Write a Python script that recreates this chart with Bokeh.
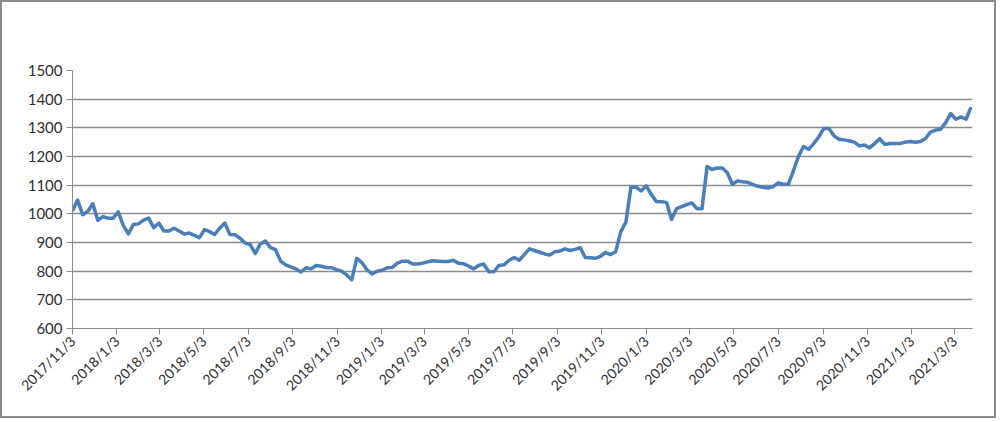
import math
import datetime as dt
from bokeh.plotting import figure
from bokeh.models import Range1d, FixedTicker
from bokeh.embed import file_html
from bokeh.resources import INLINE

# ---------------- data ----------------
start_date = dt.date(2017, 11, 3)
step_days = 7
values = [
    1010, 1048, 997, 1008, 1035, 977, 990, 985, 985, 1007,
    960, 930, 963, 965, 978, 985, 952, 968, 940, 940,
    950, 940, 930, 933, 925, 917, 945, 938, 928, 950,
    968, 928, 927, 915, 898, 893, 862, 895, 905, 882,
    875, 835, 822, 815, 808, 797, 812, 808, 820, 817,
    813, 812, 805, 800, 787, 770, 845, 830, 805, 790,
    800, 803, 812, 813, 828, 835, 835, 825, 825, 828,
    833, 836, 835, 834, 834, 838, 828, 826, 818, 808,
    820, 825, 798, 798, 820, 822, 838, 848, 838, 858,
    878, 872, 866, 860, 856, 868, 870, 878, 872, 876,
    882, 848, 847, 845, 852, 865, 858, 868, 938, 970,
    1093, 1093, 1080, 1098, 1068, 1043, 1042, 1040, 980, 1018,
    1025, 1032, 1038, 1018, 1018, 1165, 1155, 1160, 1160, 1143,
    1103, 1115, 1112, 1110, 1103, 1096, 1093, 1090, 1095, 1108,
    1103, 1103, 1150, 1200, 1235, 1225, 1245, 1268, 1298, 1298,
    1272, 1260, 1258, 1255, 1250, 1237, 1240, 1230, 1245, 1262,
    1242, 1245, 1245, 1245, 1250, 1252, 1250, 1252, 1262, 1285,
    1292, 1295, 1318, 1350, 1330, 1338, 1330, 1372,
]
dates = [start_date + dt.timedelta(days=step_days * i) for i in range(len(values))]

tick_dates = [
    dt.date(2017, 11, 3), dt.date(2018, 1, 3), dt.date(2018, 3, 3), dt.date(2018, 5, 3),
    dt.date(2018, 7, 3), dt.date(2018, 9, 3), dt.date(2018, 11, 3), dt.date(2019, 1, 3),
    dt.date(2019, 3, 3), dt.date(2019, 5, 3), dt.date(2019, 7, 3), dt.date(2019, 9, 3),
    dt.date(2019, 11, 3), dt.date(2020, 1, 3), dt.date(2020, 3, 3), dt.date(2020, 5, 3),
    dt.date(2020, 7, 3), dt.date(2020, 9, 3), dt.date(2020, 11, 3), dt.date(2021, 1, 3),
    dt.date(2021, 3, 3),
]
tick_labels = [
    "2017/11/3", "2018/1/3", "2018/3/3", "2018/5/3", "2018/7/3", "2018/9/3",
    "2018/11/3", "2019/1/3", "2019/3/3", "2019/5/3", "2019/7/3", "2019/9/3",
    "2019/11/3", "2020/1/3", "2020/3/3", "2020/5/3", "2020/7/3", "2020/9/3",
    "2020/11/3", "2021/1/3", "2021/3/3",
]
y_ticks = [600, 700, 800, 900, 1000, 1100, 1200, 1300, 1400, 1500]

# ---------------- helpers ----------------
EPOCH = dt.datetime(1970, 1, 1)


def to_ms(d):
    return int((dt.datetime(d.year, d.month, d.day) - EPOCH).total_seconds() * 1000)


x_ms = [to_ms(d) for d in dates]
tick_ms = [to_ms(d) for d in tick_dates]

FONT = "Lato"
TEXT_COLOR = "#303030"
GRID_COLOR = "#8c8c8c"

p = figure(
    width=996, height=418,
    x_axis_type="datetime",
    x_range=Range1d(to_ms(dt.date(2017, 11, 3)), to_ms(dt.date(2021, 3, 28))),
    y_range=Range1d(600, 1500),
    output_backend="svg",
    toolbar_location=None,
    min_border_left=70, min_border_right=26, min_border_top=68, min_border_bottom=92,
)
p.styles = {"border": "2px solid #8c8c8c"}
p.outline_line_color = None
p.background_fill_color = "white"
p.border_fill_color = "white"

p.line(x_ms, values, line_color="#4a7ebb", line_width=3.5, line_join="round")

# y axis
p.yaxis.ticker = FixedTicker(ticks=y_ticks)
p.yaxis.axis_line_color = GRID_COLOR
p.yaxis.major_tick_line_color = GRID_COLOR
p.yaxis.major_tick_out = 6
p.yaxis.major_tick_in = 0
p.yaxis.minor_tick_line_color = None
p.yaxis.major_label_text_font = FONT
p.yaxis.major_label_text_font_size = "15px"
p.yaxis.major_label_text_color = TEXT_COLOR
p.yaxis.major_label_standoff = 4

# x axis
p.xaxis.ticker = FixedTicker(ticks=tick_ms)
p.xaxis.major_label_overrides = {m: lab for m, lab in zip(tick_ms, tick_labels)}
p.xaxis.major_label_orientation = math.pi / 4
p.xaxis.axis_line_color = GRID_COLOR
p.xaxis.major_tick_line_color = GRID_COLOR
p.xaxis.major_tick_out = 6
p.xaxis.major_tick_in = 0
p.xaxis.minor_tick_line_color = None
p.xaxis.major_label_text_font = FONT
p.xaxis.major_label_text_font_size = "14px"
p.xaxis.major_label_text_color = TEXT_COLOR
p.xaxis.major_label_standoff = 4

# grid
p.xgrid.grid_line_color = None
p.ygrid.ticker = FixedTicker(ticks=y_ticks)
p.ygrid.grid_line_color = GRID_COLOR
p.ygrid.grid_line_width = 1.3

open("out.html", "w").write(file_html(p, INLINE))
